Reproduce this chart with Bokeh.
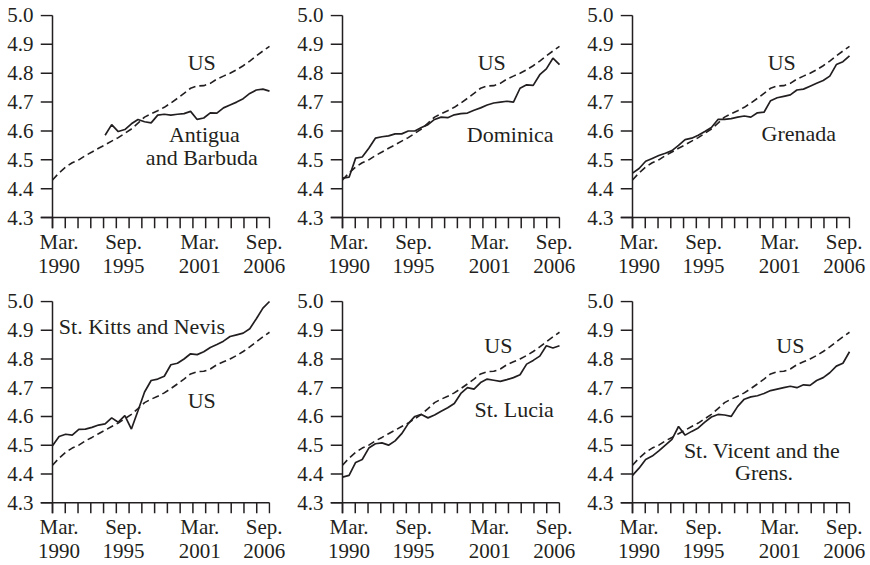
import math
from bokeh.plotting import figure
from bokeh.layouts import column, row
from bokeh.models import Range1d, FixedTicker, Label, PrintfTickFormatter
from bokeh.embed import file_html
from bokeh.resources import INLINE

# Semiannual observations, Mar. 1990 through Sep. 2006 (34 points)
periods = list(range(34))
nan = math.nan

us = [4.430, 4.455, 4.475, 4.490, 4.500, 4.515, 4.527, 4.540, 4.552, 4.565,
      4.577, 4.592, 4.607, 4.627, 4.648, 4.660, 4.670, 4.682, 4.697, 4.713,
      4.730, 4.748, 4.756, 4.757, 4.765, 4.780, 4.790, 4.800, 4.812, 4.826,
      4.842, 4.860, 4.877, 4.893]

antigua = [nan, nan, nan, nan, nan, nan, nan, nan, 4.585, 4.622,
           4.598, 4.605, 4.625, 4.640, 4.632, 4.628, 4.655, 4.658, 4.655, 4.658,
           4.660, 4.668, 4.640, 4.645, 4.663, 4.662, 4.680, 4.690, 4.700, 4.712,
           4.730, 4.742, 4.745, 4.738]

dominica = [4.437, 4.440, 4.506, 4.510, 4.540, 4.575, 4.580, 4.583, 4.590, 4.590,
            4.600, 4.600, 4.612, 4.622, 4.640, 4.648, 4.646, 4.656, 4.660, 4.662,
            4.672, 4.680, 4.690, 4.697, 4.700, 4.703, 4.700, 4.748, 4.760, 4.758,
            4.795, 4.815, 4.852, 4.830]

grenada = [4.454, 4.470, 4.495, 4.505, 4.515, 4.523, 4.532, 4.550, 4.570, 4.575,
           4.585, 4.598, 4.612, 4.640, 4.640, 4.643, 4.648, 4.652, 4.648, 4.663,
           4.665, 4.705, 4.715, 4.720, 4.725, 4.742, 4.745, 4.755, 4.765, 4.775,
           4.790, 4.830, 4.840, 4.860]

st_kitts = [4.498, 4.530, 4.538, 4.535, 4.555, 4.556, 4.562, 4.570, 4.574, 4.595,
            4.580, 4.603, 4.556, 4.620, 4.685, 4.725, 4.730, 4.740, 4.780, 4.785,
            4.800, 4.818, 4.815, 4.825, 4.840, 4.850, 4.862, 4.878, 4.884, 4.890,
            4.905, 4.940, 4.977, 5.000]

st_lucia = [4.389, 4.395, 4.440, 4.450, 4.490, 4.505, 4.508, 4.500, 4.515, 4.540,
            4.575, 4.600, 4.607, 4.595, 4.605, 4.618, 4.630, 4.645, 4.680, 4.700,
            4.695, 4.718, 4.730, 4.726, 4.722, 4.728, 4.735, 4.745, 4.782, 4.795,
            4.810, 4.846, 4.838, 4.846]

st_vincent = [4.395, 4.420, 4.450, 4.462, 4.480, 4.500, 4.520, 4.565, 4.535, 4.548,
              4.560, 4.580, 4.598, 4.607, 4.605, 4.600, 4.635, 4.660, 4.668, 4.672,
              4.680, 4.690, 4.695, 4.700, 4.705, 4.700, 4.710, 4.708, 4.725, 4.735,
              4.752, 4.775, 4.785, 4.825]

y_ticks = [4.3, 4.4, 4.5, 4.6, 4.7, 4.8, 4.9, 5.0]
x_labels = ["Mar.\n1990", "Sep.\n1995", "Mar.\n2001", "Sep.\n2006"]

INK = "#231f20"
FONT = "Liberation Serif"
TICK_FS = "21px"
NOTE_FS = "22px"

X_MIN, X_MAX = 0.0, 33.0
Y_MIN, Y_MAX = 4.3, 5.0

# date labels are centred a little inside the ends of the axis
x_label_pos = [1.0, 10.8, 22.4, 32.2]
# 18 evenly spaced tick marks along the period axis
x_tick_marks = [X_MIN + (X_MAX - X_MIN) * i / 17.0 for i in range(18)]

# axis box geometry (pixels) used to convert tick lengths into data units
AXIS_W, AXIS_H = 217, 204
Y_TICK_PX, X_TICK_PX = 12, 11
x_pad = (X_MAX - X_MIN) * Y_TICK_PX / AXIS_W
y_pad = (Y_MAX - Y_MIN) * X_TICK_PX / AXIS_H
x_edge = (X_MAX - X_MIN) * 1.0 / AXIS_W
y_edge = (Y_MAX - Y_MIN) * 1.0 / AXIS_H


def panel(series, texts, us_xy, top):
    p = figure(width=290, height=280 if top else 285,
               x_range=Range1d(X_MIN - x_pad, X_MAX + x_edge),
               y_range=Range1d(Y_MIN - y_pad, Y_MAX + y_edge),
               output_backend="svg", toolbar_location=None,
               min_border_left=40, min_border_right=20,
               min_border_top=14 if top else 20, min_border_bottom=50)
    p.outline_line_color = None
    p.xgrid.visible = False
    p.ygrid.visible = False

    # axis lines and tick marks
    p.segment(x0=[X_MIN - x_pad, X_MIN], y0=[Y_MIN, Y_MIN - y_pad],
              x1=[X_MAX, X_MIN], y1=[Y_MIN, Y_MAX],
              line_color=INK, line_width=1.5)
    p.segment(x0=[X_MIN - x_pad] * len(y_ticks), y0=y_ticks,
              x1=[X_MIN] * len(y_ticks), y1=y_ticks,
              line_color=INK, line_width=1.5)
    p.segment(x0=x_tick_marks, y0=[Y_MIN - y_pad] * len(x_tick_marks),
              x1=x_tick_marks, y1=[Y_MIN] * len(x_tick_marks),
              line_color=INK, line_width=1.5)

    p.line(periods, us, line_color=INK, line_width=1.6, line_dash="7 4")
    p.line(periods, series, line_color=INK, line_width=1.7)

    # date labels along the bottom
    xa = p.xaxis[0]
    xa.ticker = FixedTicker(ticks=x_label_pos, minor_ticks=[])
    xa.major_label_overrides = {pos: lab for pos, lab in zip(x_label_pos, x_labels)}
    xa.axis_line_color = None
    xa.major_tick_line_color = None
    xa.minor_tick_line_color = None
    xa.major_tick_out = 0
    xa.major_tick_in = 0
    xa.minor_tick_out = 0
    xa.minor_tick_in = 0
    xa.major_label_standoff = 1
    xa.major_label_text_font = FONT
    xa.major_label_text_font_size = TICK_FS
    xa.major_label_text_line_height = 1.0
    xa.major_label_text_color = INK

    # value labels on the left
    ya = p.yaxis[0]
    ya.ticker = FixedTicker(ticks=y_ticks, minor_ticks=[])
    ya.formatter = PrintfTickFormatter(format="%.1f")
    ya.axis_line_color = None
    ya.major_tick_line_color = None
    ya.minor_tick_line_color = None
    ya.major_tick_out = 0
    ya.major_tick_in = 0
    ya.minor_tick_out = 0
    ya.minor_tick_in = 0
    ya.major_label_standoff = 7
    ya.major_label_text_font = FONT
    ya.major_label_text_font_size = TICK_FS
    ya.major_label_text_color = INK

    for (tx, ty, t) in texts + [(us_xy[0], us_xy[1], "US")]:
        p.add_layout(Label(x=tx, y=ty, text=t, text_align="center",
                           text_baseline="middle", text_font=FONT,
                           text_font_size=NOTE_FS, text_color=INK))
    return p


p1 = panel(antigua, [(23.1, 4.588, "Antigua"), (22.7, 4.508, "and Barbuda")],
           (22.7, 4.837), True)
p2 = panel(dominica, [(25.5, 4.588, "Dominica")], (22.7, 4.837), True)
p3 = panel(grenada, [(25.3, 4.592, "Grenada")], (22.7, 4.837), True)
p4 = panel(st_kitts, [(13.6, 4.914, "St. Kitts and Nevis")], (22.7, 4.657), False)
p5 = panel(st_lucia, [(26.1, 4.623, "St. Lucia")], (23.7, 4.846), False)
p6 = panel(st_vincent, [(19.7, 4.482, "St. Vicent and the"), (20.0, 4.406, "Grens.")],
           (24.0, 4.846), False)

layout = column(row(p1, p2, p3), row(p4, p5, p6))
open("out.html", "w").write(file_html(layout, INLINE))
